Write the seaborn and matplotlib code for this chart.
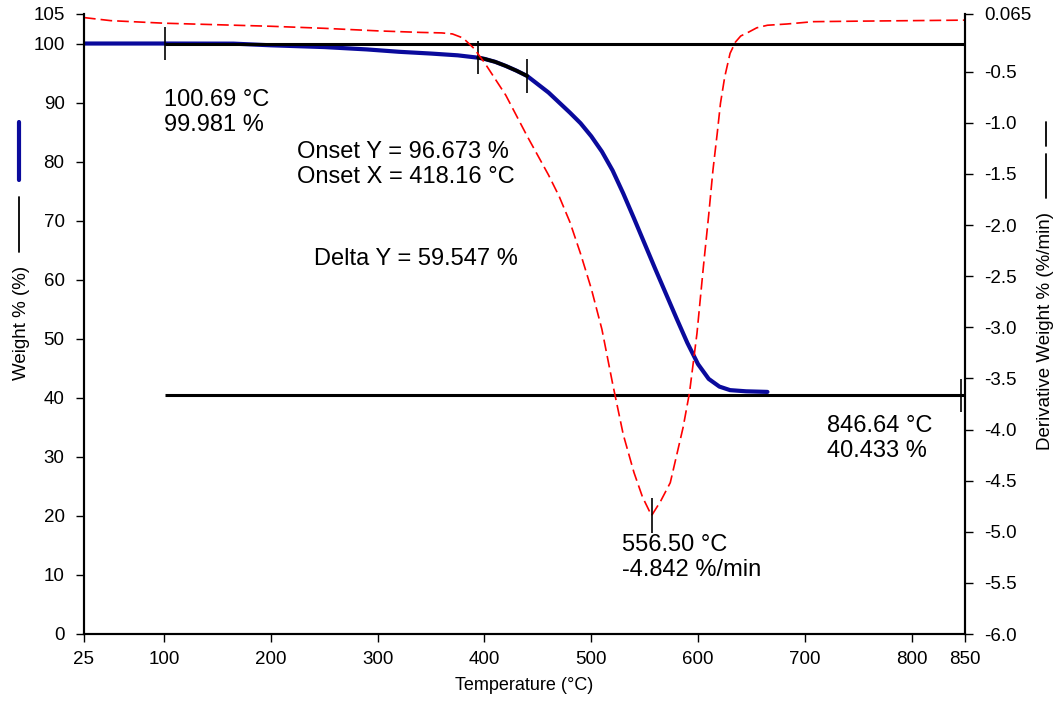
import matplotlib
matplotlib.use("Agg")
import matplotlib.pyplot as plt
from matplotlib.lines import Line2D
import seaborn as sns
import numpy as np

# ---------------- data ----------------
# Weight % curve (left axis)
temp_w = [25, 100, 165, 200, 250, 290, 320, 350, 375, 394, 400, 410, 420, 430,
          440, 450, 460, 470, 480, 490, 500, 510, 520, 530, 540, 550, 560, 570,
          580, 590, 600, 610, 620, 630, 645, 665]
weight = [100.0, 100.0, 99.98, 99.7, 99.4, 99.0, 98.6, 98.3, 98.0, 97.6, 97.4,
          96.9, 96.2, 95.4, 94.5, 93.1, 91.7, 90.0, 88.3, 86.5, 84.3, 81.7, 78.5,
          74.6, 70.4, 66.1, 61.8, 57.6, 53.4, 49.3, 45.7, 43.2, 41.9, 41.3, 41.1,
          41.0]

# Derivative weight curve (right axis)
temp_d = [25, 50, 100, 150, 200, 250, 300, 340, 360, 370, 380, 390, 400, 410,
          420, 430, 440, 450, 460, 470, 480, 490, 500, 510, 520, 530, 540, 548,
          556.5, 565, 574, 580, 586, 592, 599, 605, 610, 614, 618, 621, 625, 630,
          635, 640, 646, 655, 665, 683, 708, 750, 800, 850]
deriv = [0.03, 0.0, -0.025, -0.04, -0.055, -0.075, -0.1, -0.115, -0.12, -0.13,
         -0.17, -0.27, -0.41, -0.57, -0.73, -0.93, -1.13, -1.32, -1.51, -1.72,
         -1.97, -2.28, -2.62, -3.02, -3.55, -4.05, -4.42, -4.66, -4.842, -4.70,
         -4.52, -4.25, -3.98, -3.64, -3.06, -2.41, -1.9, -1.46, -1.1, -0.81,
         -0.55, -0.32, -0.21, -0.15, -0.12, -0.07, -0.045, -0.033, -0.01, -0.005,
         0.0, 0.005]

# analysis results
start_T, start_W = 100.69, 99.981
end_T, end_W = 846.64, 40.433
peak_T, peak_D = 556.50, -4.842
onset_T1, onset_T2 = 394, 440
onset_W1, onset_W2 = 97.6, 94.5

x_ticks = [25, 100, 200, 300, 400, 500, 600, 700, 800, 850]
left_ticks = [0, 10, 20, 30, 40, 50, 60, 70, 80, 90, 100, 105]
right_ticks = [0.065, -0.5, -1.0, -1.5, -2.0, -2.5, -3.0, -3.5, -4.0, -4.5,
               -5.0, -5.5, -6.0]
right_labels = ["0.065", "-0.5", "-1.0", "-1.5", "-2.0", "-2.5", "-3.0", "-3.5",
                "-4.0", "-4.5", "-5.0", "-5.5", "-6.0"]

# ---------------- style ----------------
sns.set_style("ticks")
plt.rcParams['font.family'] = ['Liberation Sans', 'DejaVu Sans']
plt.rcParams['text.color'] = 'black'
plt.rcParams['axes.labelcolor'] = 'black'
plt.rcParams['xtick.color'] = 'black'
plt.rcParams['ytick.color'] = 'black'

BLUE = "#0a0a9c"
RED = "#ff0000"

fig = plt.figure(figsize=(10.59, 7.04), dpi=100)
W_px, H_px = 1059, 704
ax = fig.add_axes([84 / W_px, 1 - 634 / H_px, (965 - 84) / W_px, (634 - 14) / H_px])
ax2 = ax.twinx()

# weight curve
sns.lineplot(x=temp_w, y=weight, ax=ax, color=BLUE, linewidth=3.0, zorder=2)
# onset analysis segment in black
tw = np.array(temp_w)
ww = np.array(weight)
m = (tw >= onset_T1) & (tw <= onset_T2)
sns.lineplot(x=tw[m], y=ww[m], ax=ax, color="black", linewidth=2.6, zorder=3)

# horizontal baselines
ax.hlines([start_W, end_W], start_T, 850, colors="black", linewidth=2.2, zorder=3)
# vertical markers
mh = 2.8
for tx, wy in [(start_T, start_W), (onset_T1, onset_W1), (onset_T2, onset_W2),
               (end_T, end_W)]:
    ax.vlines(tx, wy - mh, wy + mh, colors="black", linewidth=1.2, zorder=4)

# derivative curve
sns.lineplot(x=temp_d, y=deriv, ax=ax2, color=RED, linewidth=1.2, zorder=2)
ax2.lines[0].set_dashes((7, 3))
ax2.vlines(peak_T, peak_D - 0.17, peak_D + 0.17, colors="black", linewidth=1.2)

# axes limits & ticks
ax.set_xlim(25, 850)
ax.set_ylim(0, 105)
ax2.set_ylim(-6.0, 0.065)
ax.set_xticks(x_ticks)
ax.set_xticklabels([str(t) for t in x_ticks])
ax.set_yticks(left_ticks)
ax.set_yticklabels([str(t) for t in left_ticks])
ax2.set_yticks(right_ticks)
ax2.set_yticklabels(right_labels)

for a in (ax, ax2):
    a.spines['top'].set_visible(False)
    for s in ('left', 'right', 'bottom'):
        a.spines[s].set_linewidth(1.5)
        a.spines[s].set_color("black")
    a.tick_params(axis='both', which='major', length=6, width=1.0,
                  color="black", labelsize=13.5, labelcolor="black", direction='out')
ax.tick_params(axis='y', pad=8)
ax.tick_params(axis='x', pad=6)
ax2.tick_params(axis='y', pad=8)

ax.set_xlabel("Temperature (°C)", fontsize=13, labelpad=7, color="black")
ax.set_ylabel("")
ax2.set_ylabel("")

# axis titles with line keys
fig.text(22 / W_px, 1 - 323 / H_px, "Weight % (%)", rotation=90, fontsize=13.5,
         ha="center", va="center", color="black")
fig.add_artist(Line2D([19 / W_px, 19 / W_px], [1 - 122 / H_px, 1 - 180 / H_px],
                      color=BLUE, linewidth=3.0))
fig.add_artist(Line2D([19 / W_px, 19 / W_px], [1 - 197 / H_px, 1 - 252 / H_px],
                      color="black", linewidth=1.3))
fig.text(1045 / W_px, 1 - 331 / H_px, "Derivative Weight % (%/min)", rotation=90,
         fontsize=13.5, ha="center", va="center", color="black")
fig.add_artist(Line2D([1046 / W_px, 1046 / W_px], [1 - 154 / H_px, 1 - 198 / H_px],
                      color="black", linewidth=1.3))
fig.add_artist(Line2D([1046 / W_px, 1046 / W_px], [1 - 122 / H_px, 1 - 146 / H_px],
                      color="black", linewidth=1.3))

# annotations
def px_text(xp, yp, s):
    fig.text(xp / W_px, 1 - yp / H_px, s, fontsize=17, ha="left", va="top",
             linespacing=1.2, color="black")

px_text(164, 89, f"{start_T:.2f} °C\n{start_W:.3f} %")
px_text(297, 141, "Onset Y = 96.673 %\nOnset X = 418.16 °C")
px_text(314, 248, "Delta Y = 59.547 %")
px_text(622, 534, f"{peak_T:.2f} °C\n{peak_D:.3f} %/min")
px_text(827, 415, f"{end_T:.2f} °C\n{end_W:.3f} %")

fig.savefig("out.png", dpi=100)
